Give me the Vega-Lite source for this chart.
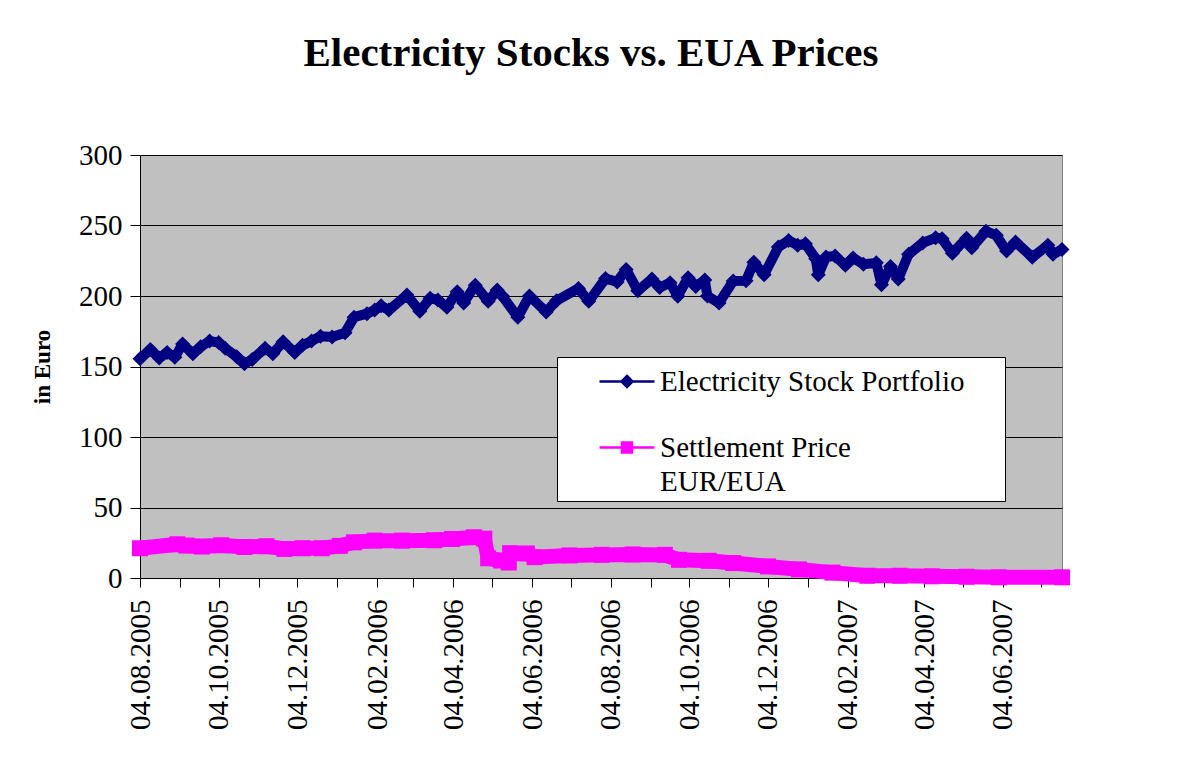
{
  "$schema": "https://vega.github.io/schema/vega-lite/v6.json",
  "width": 922,
  "height": 423,
  "autosize": {"type": "none"},
  "padding": {"left": 140, "top": 155, "right": 119, "bottom": 189},
  "background": "white",
  "title": {
    "text": "Electricity Stocks vs. EUA Prices",
    "font": "Liberation Serif",
    "fontSize": 41,
    "fontWeight": "bold",
    "color": "black",
    "anchor": "middle",
    "frame": "group",
    "dx": -10,
    "offset": 66
  },
  "config": {
    "view": {"fill": "#C0C0C0", "stroke": "#808080", "strokeWidth": 1}
  },
  "data": {
    "values": [
      {"date": "2005-08-04", "series": "Electricity Stock Portfolio", "value": 155.5},
      {"date": "2005-08-12", "series": "Electricity Stock Portfolio", "value": 162},
      {"date": "2005-08-19", "series": "Electricity Stock Portfolio", "value": 156},
      {"date": "2005-08-25", "series": "Electricity Stock Portfolio", "value": 160},
      {"date": "2005-08-31", "series": "Electricity Stock Portfolio", "value": 156.6},
      {"date": "2005-09-06", "series": "Electricity Stock Portfolio", "value": 166},
      {"date": "2005-09-14", "series": "Electricity Stock Portfolio", "value": 159},
      {"date": "2005-09-20", "series": "Electricity Stock Portfolio", "value": 164},
      {"date": "2005-09-27", "series": "Electricity Stock Portfolio", "value": 168},
      {"date": "2005-10-04", "series": "Electricity Stock Portfolio", "value": 167},
      {"date": "2005-10-09", "series": "Electricity Stock Portfolio", "value": 163},
      {"date": "2005-10-18", "series": "Electricity Stock Portfolio", "value": 157},
      {"date": "2005-10-24", "series": "Electricity Stock Portfolio", "value": 152},
      {"date": "2005-10-30", "series": "Electricity Stock Portfolio", "value": 155},
      {"date": "2005-11-09", "series": "Electricity Stock Portfolio", "value": 163},
      {"date": "2005-11-15", "series": "Electricity Stock Portfolio", "value": 159},
      {"date": "2005-11-23", "series": "Electricity Stock Portfolio", "value": 167.5},
      {"date": "2005-12-02", "series": "Electricity Stock Portfolio", "value": 160},
      {"date": "2005-12-08", "series": "Electricity Stock Portfolio", "value": 165},
      {"date": "2005-12-15", "series": "Electricity Stock Portfolio", "value": 168},
      {"date": "2005-12-22", "series": "Electricity Stock Portfolio", "value": 171.5},
      {"date": "2005-12-31", "series": "Electricity Stock Portfolio", "value": 171},
      {"date": "2006-01-10", "series": "Electricity Stock Portfolio", "value": 174},
      {"date": "2006-01-17", "series": "Electricity Stock Portfolio", "value": 185},
      {"date": "2006-01-27", "series": "Electricity Stock Portfolio", "value": 187.5},
      {"date": "2006-02-02", "series": "Electricity Stock Portfolio", "value": 190},
      {"date": "2006-02-07", "series": "Electricity Stock Portfolio", "value": 193},
      {"date": "2006-02-13", "series": "Electricity Stock Portfolio", "value": 190},
      {"date": "2006-02-27", "series": "Electricity Stock Portfolio", "value": 200.7},
      {"date": "2006-03-09", "series": "Electricity Stock Portfolio", "value": 189.2},
      {"date": "2006-03-17", "series": "Electricity Stock Portfolio", "value": 198.4},
      {"date": "2006-03-23", "series": "Electricity Stock Portfolio", "value": 197.2},
      {"date": "2006-03-30", "series": "Electricity Stock Portfolio", "value": 192},
      {"date": "2006-04-07", "series": "Electricity Stock Portfolio", "value": 203},
      {"date": "2006-04-12", "series": "Electricity Stock Portfolio", "value": 195},
      {"date": "2006-04-21", "series": "Electricity Stock Portfolio", "value": 207.7},
      {"date": "2006-05-01", "series": "Electricity Stock Portfolio", "value": 196.2},
      {"date": "2006-05-08", "series": "Electricity Stock Portfolio", "value": 204.2},
      {"date": "2006-05-12", "series": "Electricity Stock Portfolio", "value": 200},
      {"date": "2006-05-24", "series": "Electricity Stock Portfolio", "value": 185},
      {"date": "2006-06-02", "series": "Electricity Stock Portfolio", "value": 200},
      {"date": "2006-06-15", "series": "Electricity Stock Portfolio", "value": 188.7},
      {"date": "2006-06-23", "series": "Electricity Stock Portfolio", "value": 196.7},
      {"date": "2006-07-10", "series": "Electricity Stock Portfolio", "value": 205.4},
      {"date": "2006-07-18", "series": "Electricity Stock Portfolio", "value": 196.2},
      {"date": "2006-07-31", "series": "Electricity Stock Portfolio", "value": 212.4},
      {"date": "2006-08-09", "series": "Electricity Stock Portfolio", "value": 210},
      {"date": "2006-08-16", "series": "Electricity Stock Portfolio", "value": 218.8},
      {"date": "2006-08-25", "series": "Electricity Stock Portfolio", "value": 203.8},
      {"date": "2006-09-05", "series": "Electricity Stock Portfolio", "value": 212},
      {"date": "2006-09-11", "series": "Electricity Stock Portfolio", "value": 206},
      {"date": "2006-09-19", "series": "Electricity Stock Portfolio", "value": 209.4},
      {"date": "2006-09-25", "series": "Electricity Stock Portfolio", "value": 199.8},
      {"date": "2006-10-03", "series": "Electricity Stock Portfolio", "value": 213},
      {"date": "2006-10-09", "series": "Electricity Stock Portfolio", "value": 206.8},
      {"date": "2006-10-16", "series": "Electricity Stock Portfolio", "value": 211.3},
      {"date": "2006-10-18", "series": "Electricity Stock Portfolio", "value": 200},
      {"date": "2006-10-27", "series": "Electricity Stock Portfolio", "value": 195},
      {"date": "2006-11-07", "series": "Electricity Stock Portfolio", "value": 210.6},
      {"date": "2006-11-17", "series": "Electricity Stock Portfolio", "value": 210.8},
      {"date": "2006-11-23", "series": "Electricity Stock Portfolio", "value": 224},
      {"date": "2006-12-01", "series": "Electricity Stock Portfolio", "value": 215},
      {"date": "2006-12-12", "series": "Electricity Stock Portfolio", "value": 234.7},
      {"date": "2006-12-20", "series": "Electricity Stock Portfolio", "value": 239.4},
      {"date": "2006-12-27", "series": "Electricity Stock Portfolio", "value": 236},
      {"date": "2007-01-02", "series": "Electricity Stock Portfolio", "value": 237},
      {"date": "2007-01-10", "series": "Electricity Stock Portfolio", "value": 226.5},
      {"date": "2007-01-12", "series": "Electricity Stock Portfolio", "value": 215},
      {"date": "2007-01-18", "series": "Electricity Stock Portfolio", "value": 227.7},
      {"date": "2007-01-25", "series": "Electricity Stock Portfolio", "value": 228.4},
      {"date": "2007-02-02", "series": "Electricity Stock Portfolio", "value": 221.8},
      {"date": "2007-02-08", "series": "Electricity Stock Portfolio", "value": 227},
      {"date": "2007-02-16", "series": "Electricity Stock Portfolio", "value": 222.5},
      {"date": "2007-02-26", "series": "Electricity Stock Portfolio", "value": 223.5},
      {"date": "2007-03-02", "series": "Electricity Stock Portfolio", "value": 208},
      {"date": "2007-03-09", "series": "Electricity Stock Portfolio", "value": 221},
      {"date": "2007-03-15", "series": "Electricity Stock Portfolio", "value": 212},
      {"date": "2007-03-23", "series": "Electricity Stock Portfolio", "value": 229.6},
      {"date": "2007-04-03", "series": "Electricity Stock Portfolio", "value": 237.6},
      {"date": "2007-04-13", "series": "Electricity Stock Portfolio", "value": 241.3},
      {"date": "2007-04-18", "series": "Electricity Stock Portfolio", "value": 240.6},
      {"date": "2007-04-26", "series": "Electricity Stock Portfolio", "value": 230.3},
      {"date": "2007-05-07", "series": "Electricity Stock Portfolio", "value": 241},
      {"date": "2007-05-11", "series": "Electricity Stock Portfolio", "value": 234.3},
      {"date": "2007-05-22", "series": "Electricity Stock Portfolio", "value": 246},
      {"date": "2007-05-30", "series": "Electricity Stock Portfolio", "value": 243},
      {"date": "2007-06-07", "series": "Electricity Stock Portfolio", "value": 232},
      {"date": "2007-06-14", "series": "Electricity Stock Portfolio", "value": 238.3},
      {"date": "2007-06-27", "series": "Electricity Stock Portfolio", "value": 227.5},
      {"date": "2007-07-09", "series": "Electricity Stock Portfolio", "value": 236},
      {"date": "2007-07-13", "series": "Electricity Stock Portfolio", "value": 229.6},
      {"date": "2007-07-20", "series": "Electricity Stock Portfolio", "value": 233},
      {"date": "2005-08-04", "series": "Settlement Price EUR/EUA", "value": 21.1},
      {"date": "2005-09-02", "series": "Settlement Price EUR/EUA", "value": 23.9},
      {"date": "2005-09-09", "series": "Settlement Price EUR/EUA", "value": 23},
      {"date": "2005-09-21", "series": "Settlement Price EUR/EUA", "value": 22.3},
      {"date": "2005-10-06", "series": "Settlement Price EUR/EUA", "value": 23.2},
      {"date": "2005-10-24", "series": "Settlement Price EUR/EUA", "value": 22},
      {"date": "2005-11-10", "series": "Settlement Price EUR/EUA", "value": 22.5},
      {"date": "2005-11-24", "series": "Settlement Price EUR/EUA", "value": 20.6},
      {"date": "2005-12-08", "series": "Settlement Price EUR/EUA", "value": 21.1},
      {"date": "2005-12-23", "series": "Settlement Price EUR/EUA", "value": 21.1},
      {"date": "2006-01-06", "series": "Settlement Price EUR/EUA", "value": 22.8},
      {"date": "2006-01-17", "series": "Settlement Price EUR/EUA", "value": 25.3},
      {"date": "2006-02-02", "series": "Settlement Price EUR/EUA", "value": 26.5},
      {"date": "2006-02-23", "series": "Settlement Price EUR/EUA", "value": 26.5},
      {"date": "2006-03-20", "series": "Settlement Price EUR/EUA", "value": 26.8},
      {"date": "2006-04-03", "series": "Settlement Price EUR/EUA", "value": 27.7},
      {"date": "2006-04-20", "series": "Settlement Price EUR/EUA", "value": 28.9},
      {"date": "2006-04-28", "series": "Settlement Price EUR/EUA", "value": 27.9},
      {"date": "2006-05-01", "series": "Settlement Price EUR/EUA", "value": 14},
      {"date": "2006-05-11", "series": "Settlement Price EUR/EUA", "value": 12.4},
      {"date": "2006-05-17", "series": "Settlement Price EUR/EUA", "value": 11},
      {"date": "2006-05-18", "series": "Settlement Price EUR/EUA", "value": 17.6},
      {"date": "2006-05-31", "series": "Settlement Price EUR/EUA", "value": 17.4},
      {"date": "2006-06-06", "series": "Settlement Price EUR/EUA", "value": 14.8},
      {"date": "2006-07-03", "series": "Settlement Price EUR/EUA", "value": 16},
      {"date": "2006-07-28", "series": "Settlement Price EUR/EUA", "value": 16.4},
      {"date": "2006-08-21", "series": "Settlement Price EUR/EUA", "value": 16.7},
      {"date": "2006-09-15", "series": "Settlement Price EUR/EUA", "value": 16.4},
      {"date": "2006-09-26", "series": "Settlement Price EUR/EUA", "value": 12.9},
      {"date": "2006-10-19", "series": "Settlement Price EUR/EUA", "value": 12.2},
      {"date": "2006-11-07", "series": "Settlement Price EUR/EUA", "value": 10.6},
      {"date": "2006-12-04", "series": "Settlement Price EUR/EUA", "value": 8.2},
      {"date": "2006-12-28", "series": "Settlement Price EUR/EUA", "value": 6.1},
      {"date": "2007-01-23", "series": "Settlement Price EUR/EUA", "value": 3.8},
      {"date": "2007-02-19", "series": "Settlement Price EUR/EUA", "value": 1.6},
      {"date": "2007-03-16", "series": "Settlement Price EUR/EUA", "value": 1.6},
      {"date": "2007-04-10", "series": "Settlement Price EUR/EUA", "value": 1.2},
      {"date": "2007-05-07", "series": "Settlement Price EUR/EUA", "value": 0.9},
      {"date": "2007-06-01", "series": "Settlement Price EUR/EUA", "value": 0.5},
      {"date": "2007-07-20", "series": "Settlement Price EUR/EUA", "value": 0.5}
    ]
  },
  "encoding": {
    "x": {
      "field": "date",
      "type": "temporal",
      "scale": {
        "type": "utc",
        "domain": [
          {"year": 2005, "month": 8, "date": 4, "utc": true},
          {"year": 2007, "month": 7, "date": 20, "utc": true}
        ]
      },
      "axis": {
        "title": null,
        "grid": false,
        "values": [
          {"year": 2005, "month": 8, "date": 4, "utc": true},
          {"year": 2005, "month": 9, "date": 4, "utc": true},
          {"year": 2005, "month": 10, "date": 4, "utc": true},
          {"year": 2005, "month": 11, "date": 4, "utc": true},
          {"year": 2005, "month": 12, "date": 4, "utc": true},
          {"year": 2006, "month": 1, "date": 4, "utc": true},
          {"year": 2006, "month": 2, "date": 4, "utc": true},
          {"year": 2006, "month": 3, "date": 4, "utc": true},
          {"year": 2006, "month": 4, "date": 4, "utc": true},
          {"year": 2006, "month": 5, "date": 4, "utc": true},
          {"year": 2006, "month": 6, "date": 4, "utc": true},
          {"year": 2006, "month": 7, "date": 4, "utc": true},
          {"year": 2006, "month": 8, "date": 4, "utc": true},
          {"year": 2006, "month": 9, "date": 4, "utc": true},
          {"year": 2006, "month": 10, "date": 4, "utc": true},
          {"year": 2006, "month": 11, "date": 4, "utc": true},
          {"year": 2006, "month": 12, "date": 4, "utc": true},
          {"year": 2007, "month": 1, "date": 4, "utc": true},
          {"year": 2007, "month": 2, "date": 4, "utc": true},
          {"year": 2007, "month": 3, "date": 4, "utc": true},
          {"year": 2007, "month": 4, "date": 4, "utc": true},
          {"year": 2007, "month": 5, "date": 4, "utc": true},
          {"year": 2007, "month": 6, "date": 4, "utc": true},
          {"year": 2007, "month": 7, "date": 4, "utc": true}
        ],
        "labelExpr": "utcmonth(datum.value) % 2 == 1 ? utcFormat(datum.value, '%d.%m.%Y') : ''",
        "labelAngle": -90,
        "labelFont": "Liberation Serif",
        "labelFontSize": 29,
        "labelColor": "black",
        "labelPadding": 12,
        "labelOverlap": false,
        "labelFlush": false,
        "tickColor": "black",
        "tickSize": 9,
        "domainColor": "black"
      }
    },
    "y": {
      "field": "value",
      "type": "quantitative",
      "scale": {"domain": [0, 300]},
      "axis": {
        "values": [0, 50, 100, 150, 200, 250, 300],
        "title": "in Euro",
        "titleFont": "Liberation Serif",
        "titleFontSize": 23,
        "titleFontWeight": "bold",
        "titleColor": "black",
        "titlePadding": 24,
        "labelFont": "Liberation Serif",
        "labelFontSize": 29,
        "labelColor": "black",
        "labelPadding": 8,
        "tickColor": "black",
        "tickSize": 10,
        "domainColor": "black",
        "grid": true,
        "gridColor": "black",
        "gridOpacity": 1,
        "gridWidth": 1
      }
    },
    "color": {
      "field": "series",
      "type": "nominal",
      "scale": {
        "domain": ["Electricity Stock Portfolio", "Settlement Price EUR/EUA"],
        "range": ["#000080", "#FF00FF"]
      },
      "legend": {
        "title": null,
        "orient": "none",
        "legendX": 417,
        "legendY": 202,
        "padding": 4,
        "fillColor": "white",
        "strokeColor": "black",
        "labelFont": "Liberation Serif",
        "labelFontSize": 29,
        "labelColor": "black",
        "labelLimit": 700,
        "labelOffset": 12.5,
        "symbolOffset": 45.5,
        "rowPadding": 30,
        "symbolSize": 1444,
        "labelExpr": "datum.label == 'Settlement Price EUR/EUA' ? ['Settlement Price', 'EUR/EUA'] : datum.label",
        "encode": {
          "labels": {
            "update": {"lineHeight": {"value": 34}}
          },
          "symbols": {
            "update": {
              "shape": {"signal": "datum.value == 'Electricity Stock Portfolio' ? 'M-1.447,0H1.447M0,-0.2895L0.2895,0L0,0.2895L-0.2895,0ZM19.4,0' : 'M-1.447,0H1.447M-0.263,-0.263H0.263V0.263H-0.263ZM19.4,0'"},
              "fill": {"signal": "datum.value == 'Electricity Stock Portfolio' ? '#000080' : '#FF00FF'"},
              "stroke": {"signal": "datum.value == 'Electricity Stock Portfolio' ? '#000080' : '#FF00FF'"},
              "strokeWidth": {"value": 2.5},
              "opacity": {"value": 1},
              "fillOpacity": {"value": 1},
              "strokeOpacity": {"value": 1}
            }
          }
        }
      }
    }
  },
  "layer": [
    {
      "transform": [{"filter": "datum.series == 'Electricity Stock Portfolio'"}],
      "mark": {"type": "line", "strokeWidth": 10, "strokeJoin": "round"}
    },
    {
      "transform": [{"filter": "datum.series == 'Electricity Stock Portfolio'"}],
      "mark": {"type": "point", "shape": "diamond", "filled": true, "size": 225, "opacity": 1, "strokeWidth": 0}
    },
    {
      "transform": [{"filter": "datum.series == 'Settlement Price EUR/EUA'"}],
      "mark": {"type": "line", "strokeWidth": 15, "strokeJoin": "round"}
    },
    {
      "transform": [{"filter": "datum.series == 'Settlement Price EUR/EUA'"}],
      "mark": {"type": "point", "shape": "square", "filled": true, "size": 256, "opacity": 1, "strokeWidth": 0}
    }
  ]
}
